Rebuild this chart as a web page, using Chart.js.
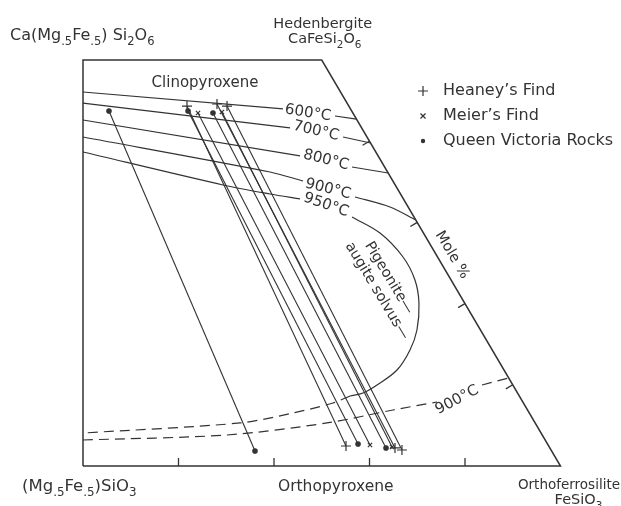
<!DOCTYPE html>
<html><head><meta charset="utf-8">
<script src="https://cdn.jsdelivr.net/npm/chart.js@4.4.0/dist/chart.umd.min.js"></script>
<style>html,body{margin:0;padding:0;background:#fff;}canvas{display:block;}</style>
</head><body>
<canvas id="c" width="621" height="506"></canvas>
<script>
// Plot coordinates: X = Fs + Wo/2 (mol %), Y = Wo (mol %)
const quadCorners = [[50,0],[50,50],[75,50],[100,0],[50,0]];
const bottomTicks = [60,70,80,90];
const rightTicks = [10,20,30,40];

// Tie lines: clinopyroxene (top) and orthopyroxene (bottom) compositions
const heaneyCpx = [[60.89,44.33],[64.03,44.58],[65.08,44.33]];
const heaneyOpx = [[77.54,2.46],[82.67,2.22],[83.40,1.97]];
const meierCpx  = [[62.04,43.47],[64.55,43.60]];
const meierOpx  = [[80.05,2.59],[82.36,2.34]];
const qvrCpx    = [[52.72,43.72],[61.00,43.72],[63.61,43.47]];
const qvrOpx    = [[68.01,1.85],[78.80,2.71],[81.73,2.22]];

// Isotherms (split around their labels)
const iso600L = [[50,46.06],[70.94,43.97]];
const iso600R = [[76.39,43.10],[78.64,42.73]];
const iso700L = [[50,44.70],[71.68,41.63]];
const iso700R = [[77.23,40.52],[80.11,39.78]];
const iso800L = [[50,42.61],[72.72,38.2]];
const iso800R = [[78.17,36.82],[81.96,36.08]];
const iso900L = [[50,40.52],[69.58,36.21],[73.04,35.1]];
const iso900R = [[78.48,33.13],[82.15,31.90],[84.85,30.30]];
const iso950L = [[50,38.67],[64.66,34.61],[69.58,33.5],[72.72,32.9]];
const solvus  = [[78.17,30.67],[81.10,28.69],[83.51,25.74],[84.76,22.91],[85.18,20.07],[84.97,16.75],[84.24,14.29],[82.88,11.82],[80.79,9.98],[79.32,8.99],[77.96,8.62]];
const iso950Opx  = [[77.96,8.62],[76.18,7.76],[71.99,6.53],[66.44,5.30],[50,4.06]];
const iso900OpxL = [[50,3.20],[65.08,3.82],[75.55,5.30],[82.46,6.90],[87.07,7.88]];
const iso900OpxR = [[91.78,9.98],[94.58,10.84]];

const isoLabels = ['600°C','700°C','800°C','900°C','950°C'];
const isoLabelX = [73.56,74.40,75.45,75.65,75.45];
const isoLabelY = [43.47,41.26,37.68,34.11,32.14];
const isoLabelRot = [9,13,14,14,19];

const INK = '#333333';
const FONT = '"DejaVu Sans", sans-serif';

const pts = a => a.map(p => ({x:p[0], y:p[1]}));
function lineDs(a, opts){
  return Object.assign({data:pts(a), showLine:true, borderColor:INK, borderWidth:1.2,
    pointRadius:0, pointHoverRadius:0, tension:0, fill:false, clip:false}, opts||{});
}
function tieDs(top, bot, style, r){
  return {data:[{x:top[0],y:top[1]},{x:bot[0],y:bot[1]}], showLine:true, borderColor:INK,
    borderWidth:1.1, pointStyle:style, pointRadius:r, pointHoverRadius:r,
    pointBorderColor:INK, pointBackgroundColor:INK, pointBorderWidth:1.2, clip:false, tension:0};
}

const datasets = [
  lineDs(quadCorners, {borderWidth:1.5}),
  lineDs(iso600L), lineDs(iso600R),
  lineDs(iso700L), lineDs(iso700R),
  lineDs(iso800L), lineDs(iso800R),
  lineDs(iso900L, {tension:0.3}), lineDs(iso900R, {tension:0.3}),
  lineDs(iso950L, {tension:0.3}),
  lineDs(solvus, {tension:0.35}),
  lineDs(iso950Opx, {tension:0.3, borderDash:[10,6]}),
  lineDs(iso900OpxL, {tension:0.3, borderDash:[10,6]}),
  lineDs(iso900OpxR, {borderDash:[10,6]})
];
heaneyCpx.forEach((p,i)=>datasets.push(tieDs(p, heaneyOpx[i], 'cross', 5)));
meierCpx.forEach((p,i)=>datasets.push(tieDs(p, meierOpx[i], 'crossRot', 3)));
qvrCpx.forEach((p,i)=>datasets.push(tieDs(p, qvrOpx[i], 'circle', 2.2)));

function rich(ctx, segs, x, y, align, size){
  const sub = size*0.72;
  let w = 0;
  segs.forEach(s=>{ctx.font=(s[1]?sub:size)+'px '+FONT; w+=ctx.measureText(s[0]).width;});
  let cx = align==='center' ? x-w/2 : align==='right' ? x-w : x;
  ctx.textAlign='left'; ctx.textBaseline='alphabetic';
  segs.forEach(s=>{ctx.font=(s[1]?sub:size)+'px '+FONT;
    ctx.fillText(s[0], cx, y + (s[1]? size*0.32 : 0)); cx += ctx.measureText(s[0]).width;});
}

const deco = {
  id:'deco',
  afterDatasetsDraw(chart){
    const ctx = chart.ctx, xs = chart.scales.x, ys = chart.scales.y;
    const P = (X,W) => [xs.getPixelForValue(X), ys.getPixelForValue(W)];
    ctx.save();
    ctx.strokeStyle = INK; ctx.fillStyle = INK; ctx.lineWidth = 1.3;
    // bottom ticks
    bottomTicks.forEach(v=>{const [px,py]=P(v,0); ctx.beginPath(); ctx.moveTo(px,py); ctx.lineTo(px,py-8); ctx.stroke();});
    // right-edge ticks
    const [ax,ay]=P(75,50), [bx,by]=P(100,0);
    let dx=bx-ax, dy=by-ay; const L=Math.hypot(dx,dy); dx/=L; dy/=L;
    const nx=-dy, ny=dx;
    rightTicks.forEach(w=>{const [px,py]=P(100-w/2,w); ctx.beginPath(); ctx.moveTo(px,py); ctx.lineTo(px+nx*8,py+ny*8); ctx.stroke();});

    // isotherm labels
    const rot = (text, X, W, deg, size) => {
      const [px,py]=P(X,W); ctx.save(); ctx.translate(px,py); ctx.rotate(deg*Math.PI/180);
      ctx.textAlign='center'; ctx.textBaseline='middle'; ctx.font=size+'px '+FONT; ctx.fillText(text,0,0); ctx.restore();
    };
    isoLabels.forEach((t,i)=>rot(t, isoLabelX[i], isoLabelY[i], isoLabelRot[i], 15));
    rot('900°C', 89.16, 8.13, -28, 15);
    rot('Mole %', 88.64, 25.99, 59, 14.5);
    rot('Pigeonite—', 82.04, 23.15, 59, 14.5);
    rot('augite solvus—', 80.79, 21.55, 59, 14.5);

    // corner / region labels
    const [tlx,tly]=P(50,50), [trx,try_]=P(75,50), [blx,bly]=P(50,0), [brx,bry]=P(100,0);
    rich(ctx, [['Ca(Mg',0],['.5',1],['Fe',0],['.5',1],[') Si',0],['2',1],['O',0],['6',1]], tlx-73, tly-20, 'left', 16);
    rich(ctx, [['Hedenbergite',0]], trx+1, try_-32, 'center', 14.5);
    rich(ctx, [['CaFeSi',0],['2',1],['O',0],['6',1]], trx+3, try_-17, 'center', 14.5);
    rich(ctx, [['Clinopyroxene',0]], tlx+122, tly+27, 'center', 15);
    rich(ctx, [['(Mg',0],['.5',1],['Fe',0],['.5',1],[')SiO',0],['3',1]], blx-61, bly+25, 'left', 16.5);
    rich(ctx, [['Orthopyroxene',0]], (blx+brx)/2+14, bly+25, 'center', 15.5);
    rich(ctx, [['Orthoferrosilite',0]], 620, bry+23, 'right', 13.5);
    rich(ctx, [['FeSiO',0],['3',1]], brx+18, bry+38, 'center', 14.5);

    // legend
    const lx = 423, tx = 443, rows = [91,116,141];
    ctx.lineWidth = 1.2;
    ctx.beginPath(); ctx.moveTo(lx-5,rows[0]); ctx.lineTo(lx+5,rows[0]); ctx.moveTo(lx,rows[0]-5); ctx.lineTo(lx,rows[0]+5); ctx.stroke();
    ctx.beginPath(); ctx.moveTo(lx-2.5,rows[1]-2.5); ctx.lineTo(lx+2.5,rows[1]+2.5); ctx.moveTo(lx+2.5,rows[1]-2.5); ctx.lineTo(lx-2.5,rows[1]+2.5); ctx.stroke();
    ctx.beginPath(); ctx.arc(lx,rows[2],2.2,0,Math.PI*2); ctx.fill();
    ['Heaney\u2019s Find','Meier\u2019s Find','Queen Victoria Rocks'].forEach((t,i)=>{
      ctx.font='16px '+FONT; ctx.textAlign='left'; ctx.textBaseline='middle'; ctx.fillText(t, tx, rows[i]);
    });
    ctx.restore();
  }
};

new Chart(document.getElementById('c'), {
  type:'scatter',
  data:{datasets},
  options:{
    responsive:false, animation:false, devicePixelRatio:1,
    layout:{padding:{left:83, right:60.5, top:60, bottom:40}},
    scales:{
      x:{type:'linear', min:50, max:100, display:false},
      y:{type:'linear', min:0, max:50, display:false}
    },
    plugins:{legend:{display:false}, tooltip:{enabled:false}}
  },
  plugins:[deco]
});
</script>
</body></html>
